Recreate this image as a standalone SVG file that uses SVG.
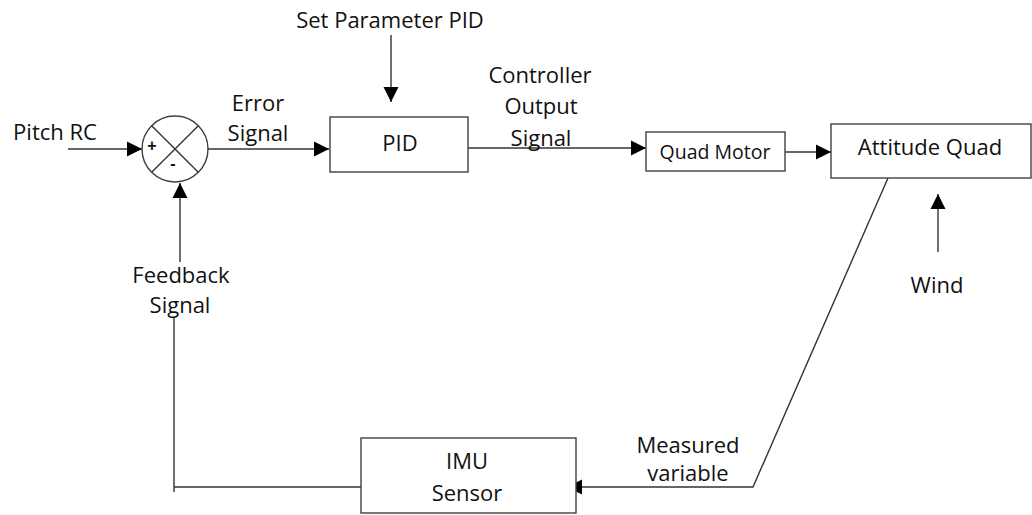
<svg xmlns="http://www.w3.org/2000/svg" width="1032" height="515" viewBox="0 0 1032 515">
  <style>
    .box { fill: #ffffff; stroke: #404040; stroke-width: 1.4; }
    .wire { fill: none; stroke: #333333; stroke-width: 1.4; }
    .lbl { font-family: "Open Sans", "Liberation Sans", sans-serif; font-size: 22px; fill: #111111; text-anchor: middle; }
    .small { font-size: 19.5px; }
    .sign { font-family: "Liberation Sans", sans-serif; font-size: 16px; font-weight: bold; fill: #111111; text-anchor: middle; }
  </style>
  <defs>
    <marker id="arrow" markerUnits="userSpaceOnUse" markerWidth="16" markerHeight="16" refX="15" refY="8" orient="auto">
      <path d="M0,0.5 L15,8 L0,15.5 z" fill="#000000"/>
    </marker>
  </defs>
  <rect width="1032" height="515" fill="#ffffff"/>

  <!-- connectors -->
  <g id="connectors">
    <line class="wire" x1="68" y1="149" x2="142" y2="149" marker-end="url(#arrow)"/>
    <line class="wire" x1="208" y1="149" x2="329" y2="149" marker-end="url(#arrow)"/>
    <line class="wire" x1="391" y1="35" x2="391" y2="102" marker-end="url(#arrow)"/>
    <line class="wire" x1="468" y1="148" x2="646" y2="148" marker-end="url(#arrow)"/>
    <line class="wire" x1="785" y1="152" x2="831" y2="152" marker-end="url(#arrow)"/>
    <line class="wire" x1="938" y1="252" x2="938" y2="194" marker-end="url(#arrow)"/>
    <polyline class="wire" points="888,178 753,487 567,487" marker-end="url(#arrow)"/>
    <polyline class="wire" points="174,317 174,492"/>
    <line class="wire" x1="174" y1="487" x2="361" y2="487"/>
    <line class="wire" x1="180" y1="262" x2="180" y2="183" marker-end="url(#arrow)"/>
  </g>

  <!-- summing junction -->
  <g id="sum">
    <circle class="box" cx="175" cy="149" r="33"/>
    <line class="wire" x1="151.7" y1="125.7" x2="198.3" y2="172.3"/>
    <line class="wire" x1="198.3" y1="125.7" x2="151.7" y2="172.3"/>
    <text class="sign" x="152" y="151">+</text>
    <text class="sign" x="173" y="169">-</text>
  </g>

  <g id="pid">
    <rect class="box" x="330" y="117" width="138" height="55"/>
    <text class="lbl" x="400" y="151">PID</text>
  </g>

  <g id="quad-motor">
    <rect class="box" x="646" y="132" width="139" height="39"/>
    <text class="lbl small" x="715" y="159">Quad Motor</text>
  </g>

  <g id="attitude-quad">
    <rect class="box" x="831" y="124" width="200" height="54"/>
    <text class="lbl" x="930" y="155">Attitude Quad</text>
  </g>

  <g id="imu-sensor">
    <rect class="box" x="361" y="438" width="215" height="75"/>
    <text class="lbl" x="467" y="469">IMU</text>
    <text class="lbl" x="467" y="501">Sensor</text>
  </g>

  <!-- signal labels -->
  <g id="labels">
    <text class="lbl" x="55" y="140">Pitch RC</text>
    <text class="lbl" x="258" y="111">Error</text>
    <text class="lbl" x="258" y="141">Signal</text>
    <text class="lbl" x="390" y="28">Set Parameter PID</text>
    <text class="lbl" x="540" y="83">Controller</text>
    <text class="lbl" x="541" y="114">Output</text>
    <text class="lbl" x="541" y="146">Signal</text>
    <text class="lbl" x="937" y="293">Wind</text>
    <text class="lbl" x="181" y="283">Feedback</text>
    <text class="lbl" x="180" y="313">Signal</text>
    <text class="lbl" x="688" y="453">Measured</text>
    <text class="lbl" x="688" y="481">variable</text>
  </g>
</svg>
